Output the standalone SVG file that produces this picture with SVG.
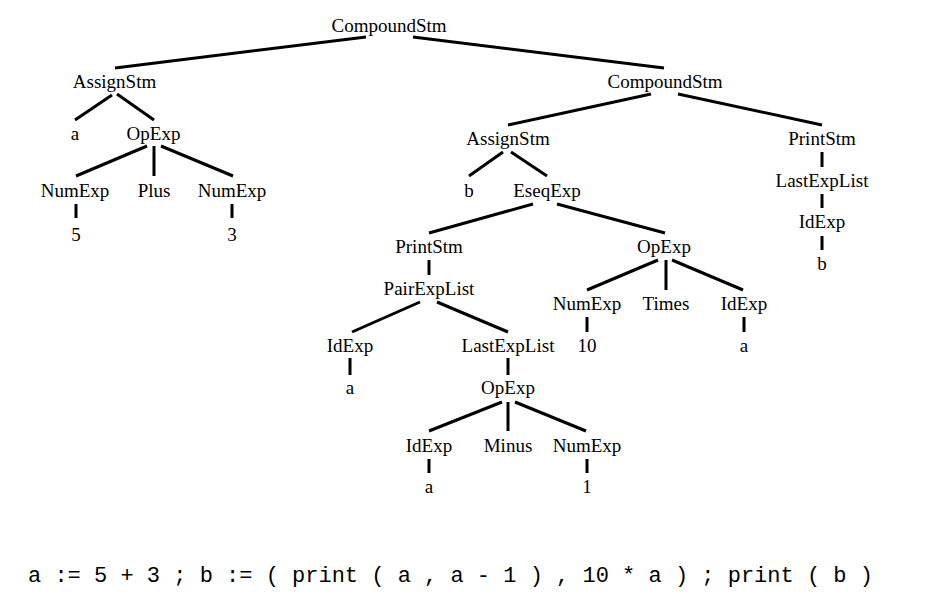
<svg xmlns="http://www.w3.org/2000/svg" width="928" height="600" viewBox="0 0 928 600">
<style>
.n text{font-family:"Liberation Serif","Times New Roman",serif;font-size:19px;fill:#000;text-anchor:middle}
#edges line{stroke:#000;stroke-width:3;stroke-linecap:butt}
.code{font-family:"Liberation Mono","Courier New",monospace;font-size:22px;fill:#000}
</style>
<rect width="928" height="600" fill="#fff"/>
<g id="edges">
<line x1="366" y1="37" x2="115" y2="68"/>
<line x1="413" y1="37" x2="664" y2="68"/>
<line x1="112" y1="95" x2="75" y2="120"/>
<line x1="117" y1="94" x2="154" y2="120"/>
<line x1="147" y1="146" x2="76" y2="176"/>
<line x1="154" y1="146" x2="154" y2="176"/>
<line x1="161" y1="146" x2="233" y2="176"/>
<line x1="76" y1="204" x2="76" y2="218"/>
<line x1="232" y1="204" x2="232" y2="218"/>
<line x1="651" y1="94" x2="508" y2="125"/>
<line x1="678" y1="94" x2="822" y2="125"/>
<line x1="503" y1="152" x2="469" y2="176"/>
<line x1="511" y1="152" x2="547" y2="176"/>
<line x1="822" y1="152" x2="822" y2="167"/>
<line x1="822" y1="194" x2="822" y2="208"/>
<line x1="822" y1="236" x2="822" y2="250"/>
<line x1="533" y1="204" x2="429" y2="233"/>
<line x1="557" y1="204" x2="665" y2="233"/>
<line x1="429" y1="260" x2="429" y2="275"/>
<line x1="420" y1="302" x2="352" y2="332"/>
<line x1="437" y1="302" x2="508" y2="332"/>
<line x1="350" y1="358" x2="350" y2="375"/>
<line x1="508" y1="358" x2="508" y2="375"/>
<line x1="658" y1="260" x2="587" y2="290"/>
<line x1="666" y1="260" x2="666" y2="290"/>
<line x1="672" y1="260" x2="743" y2="290"/>
<line x1="587" y1="317" x2="587" y2="332"/>
<line x1="744" y1="317" x2="744" y2="332"/>
<line x1="502" y1="402" x2="429" y2="431"/>
<line x1="508" y1="402" x2="508" y2="431"/>
<line x1="515" y1="402" x2="586" y2="431"/>
<line x1="429" y1="459" x2="429" y2="473"/>
<line x1="587" y1="459" x2="587" y2="473"/>
</g>
<g id="n_root" class="n"><text x="389" y="32">CompoundStm</text></g>
<g id="n_assign1" class="n"><text x="114.5" y="88">AssignStm</text></g>
<g id="n_compound2" class="n"><text x="665" y="88">CompoundStm</text></g>
<g id="n_a1" class="n"><text x="75" y="140">a</text></g>
<g id="n_opexp1" class="n"><text x="153.5" y="140">OpExp</text></g>
<g id="n_numexp1" class="n"><text x="75" y="197">NumExp</text></g>
<g id="n_plus" class="n"><text x="154" y="197">Plus</text></g>
<g id="n_numexp2" class="n"><text x="232" y="197">NumExp</text></g>
<g id="n_5" class="n"><text x="76" y="241">5</text></g>
<g id="n_3" class="n"><text x="232" y="241">3</text></g>
<g id="n_assign2" class="n"><text x="508" y="145">AssignStm</text></g>
<g id="n_print2" class="n"><text x="822" y="145">PrintStm</text></g>
<g id="n_b1" class="n"><text x="469" y="197">b</text></g>
<g id="n_eseq" class="n"><text x="547" y="197">EseqExp</text></g>
<g id="n_last2" class="n"><text x="822" y="187">LastExpList</text></g>
<g id="n_idexp3" class="n"><text x="822" y="228">IdExp</text></g>
<g id="n_b2" class="n"><text x="822" y="270">b</text></g>
<g id="n_print1" class="n"><text x="429" y="253">PrintStm</text></g>
<g id="n_opexp2" class="n"><text x="664" y="253">OpExp</text></g>
<g id="n_pair" class="n"><text x="429" y="295">PairExpList</text></g>
<g id="n_numexp3" class="n"><text x="587" y="310">NumExp</text></g>
<g id="n_times" class="n"><text x="666" y="310">Times</text></g>
<g id="n_idexp2" class="n"><text x="744" y="310">IdExp</text></g>
<g id="n_idexp1" class="n"><text x="350" y="352">IdExp</text></g>
<g id="n_last1" class="n"><text x="508" y="352">LastExpList</text></g>
<g id="n_10" class="n"><text x="587" y="352">10</text></g>
<g id="n_a3" class="n"><text x="744" y="352">a</text></g>
<g id="n_a2" class="n"><text x="350" y="394">a</text></g>
<g id="n_opexp3" class="n"><text x="508" y="394">OpExp</text></g>
<g id="n_idexp4" class="n"><text x="429" y="452">IdExp</text></g>
<g id="n_minus" class="n"><text x="508" y="452">Minus</text></g>
<g id="n_numexp4" class="n"><text x="587" y="452">NumExp</text></g>
<g id="n_a4" class="n"><text x="429" y="493">a</text></g>
<g id="n_1" class="n"><text x="587" y="493">1</text></g>
<text class="code" x="28" y="582" xml:space="preserve">a := 5 + 3 ; b := ( print ( a , a - 1 ) , 10 * a ) ; print ( b )</text>
</svg>
